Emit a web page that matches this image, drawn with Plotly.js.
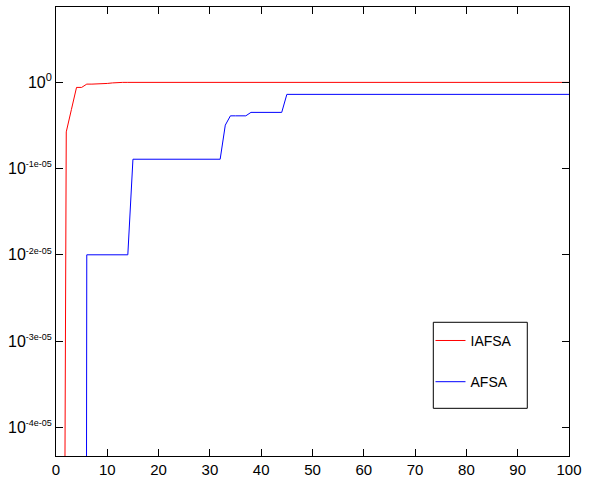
<!DOCTYPE html>
<html>
<head>
<meta charset="utf-8">
<script src="https://cdn.plot.ly/plotly-3.0.1.min.js"></script>
<style>
html,body{margin:0;padding:0;background:#fff;}
#chart{width:589px;height:481px;}
</style>
</head>
<body>
<div id="chart"></div>
<script>
// Iteration index
var iterations = [1,2,3,4,5,6,7,8,9,10,11,12,13,14,15,16,17,18,19,20,
  21,22,23,24,25,26,27,28,29,30,31,32,33,34,35,36,37,38,39,40,
  41,42,43,44,45,46,47,48,49,50,51,52,53,54,55,56,57,58,59,60,
  61,62,63,64,65,66,67,68,69,70,71,72,73,74,75,76,77,78,79,80,
  81,82,83,84,85,86,87,88,89,90,91,92,93,94,95,96,97,98,99,100];

// IAFSA best fitness per iteration
var iafsa = [0.99964086,0.99998678,0.99999272,0.99999866,0.99999866,0.99999954,0.99999954,0.99999954,0.99999958,0.99999972,
  0.99999986,1,1,1,1,1,1,1,1,1,
  1,1,1,1,1,1,1,1,1,1,
  1,1,1,1,1,1,1,1,1,1,
  1,1,1,1,1,1,1,1,1,1,
  1,1,1,1,1,1,1,1,1,1,
  1,1,1,1,1,1,1,1,1,1,
  1,1,1,1,1,1,1,1,1,1,
  1,1,1,1,1,1,1,1,1,1,
  1,1,1,1,1,1,1,1,1,1];

// AFSA best fitness per iteration
var afsa = [0.9988494,0.9988494,0.9988494,0.9988494,0.9988494,
  0.99995395,0.99995395,0.99995395,0.99995395,0.99995395,0.99995395,0.99995395,0.99995395,0.99995395,
  0.99997948,0.99997948,0.99997948,0.99997948,0.99997948,0.99997948,0.99997948,0.99997948,0.99997948,
  0.99997948,0.99997948,0.99997948,0.99997948,0.99997948,0.99997948,0.99997948,0.99997948,0.99997948,
  0.99998858,
  0.99999107,0.99999107,0.99999107,0.99999107,
  0.99999199,0.99999199,0.99999199,0.99999199,0.99999199,0.99999199,0.99999199,
  0.9999968,0.9999968,0.9999968,0.9999968,0.9999968,0.9999968,0.9999968,0.9999968,0.9999968,0.9999968,
  0.9999968,0.9999968,0.9999968,0.9999968,0.9999968,0.9999968,0.9999968,0.9999968,0.9999968,0.9999968,
  0.9999968,0.9999968,0.9999968,0.9999968,0.9999968,0.9999968,0.9999968,0.9999968,0.9999968,0.9999968,
  0.9999968,0.9999968,0.9999968,0.9999968,0.9999968,0.9999968,0.9999968,0.9999968,0.9999968,0.9999968,
  0.9999968,0.9999968,0.9999968,0.9999968,0.9999968,0.9999968,0.9999968,0.9999968,0.9999968,0.9999968,
  0.9999968,0.9999968,0.9999968,0.9999968,0.9999968,0.9999968];

var seriesNames = ['IAFSA', 'AFSA'];

// Y tick exponents (log10 of value) and their labels
var yTickExponents = [0, -1e-5, -2e-5, -3e-5, -4e-5];
var yTickLabels = ['0', '-1e-05', '-2e-05', '-3e-05', '-4e-05'];

// X ticks
var xTickVals = [0,10,20,30,40,50,60,70,80,90,100];

var FONT = '"Liberation Sans", Arial, Helvetica, sans-serif';

var traces = [
  {x: iterations, y: iafsa, name: seriesNames[0], type: 'scatter', mode: 'lines',
   legendgroup: 'a', line: {color: '#ff0000', width: 1}},
  {x: iterations, y: afsa, name: seriesNames[1], type: 'scatter', mode: 'lines',
   legendgroup: 'b', line: {color: '#0000ff', width: 1}}
];

var layout = {
  width: 589, height: 481,
  margin: {l: 56, r: 20, t: 7, b: 25, pad: 0},
  paper_bgcolor: '#ffffff', plot_bgcolor: '#ffffff',
  font: {family: FONT, color: '#000000', size: 15},
  showlegend: true,
  legend: {
    x: 0.73, y: 0.292, xanchor: 'left', yanchor: 'top',
    bgcolor: 'rgba(0,0,0,0)', borderwidth: 0,
    traceorder: 'grouped', tracegroupgap: 20,
    font: {family: FONT, size: 14, color: '#000'}
  },
  xaxis: {
    range: [0, 100], tickmode: 'array', tickvals: xTickVals,
    ticks: 'inside', ticklen: 7, tickwidth: 1, tickcolor: '#000',
    showline: true, linecolor: '#000', linewidth: 1, mirror: 'ticks',
    showgrid: false, zeroline: false,
    tickfont: {family: FONT, size: 15, color: '#000'}
  },
  yaxis: {
    type: 'log',
    range: [-4.334e-5, 0.8746e-5],
    tickmode: 'array',
    tickvals: yTickExponents.map(function(e){ return Math.pow(10, e); }),
    ticktext: yTickLabels.map(function(t){
      var fs = (t === '0') ? 11 : 9;
      return '10<sup><span style="font-size:' + fs + 'px">' + t + '</span></sup>';
    }),
    ticks: 'inside', ticklen: 7, tickwidth: 1, tickcolor: '#000',
    showline: true, linecolor: '#000', linewidth: 1, mirror: 'ticks',
    showgrid: false, zeroline: false,
    tickfont: {family: FONT, size: 16, color: '#000'}
  },
  shapes: [{
    type: 'rect', xref: 'paper', yref: 'paper',
    x0: 0.7355, x1: 0.9187, y0: 0.1062, y1: 0.2978,
    line: {color: '#000', width: 1}, fillcolor: 'rgba(0,0,0,0)', layer: 'above'
  }]
};

Plotly.newPlot('chart', traces, layout, {staticPlot: true, displayModeBar: false});
</script>
</body>
</html>
